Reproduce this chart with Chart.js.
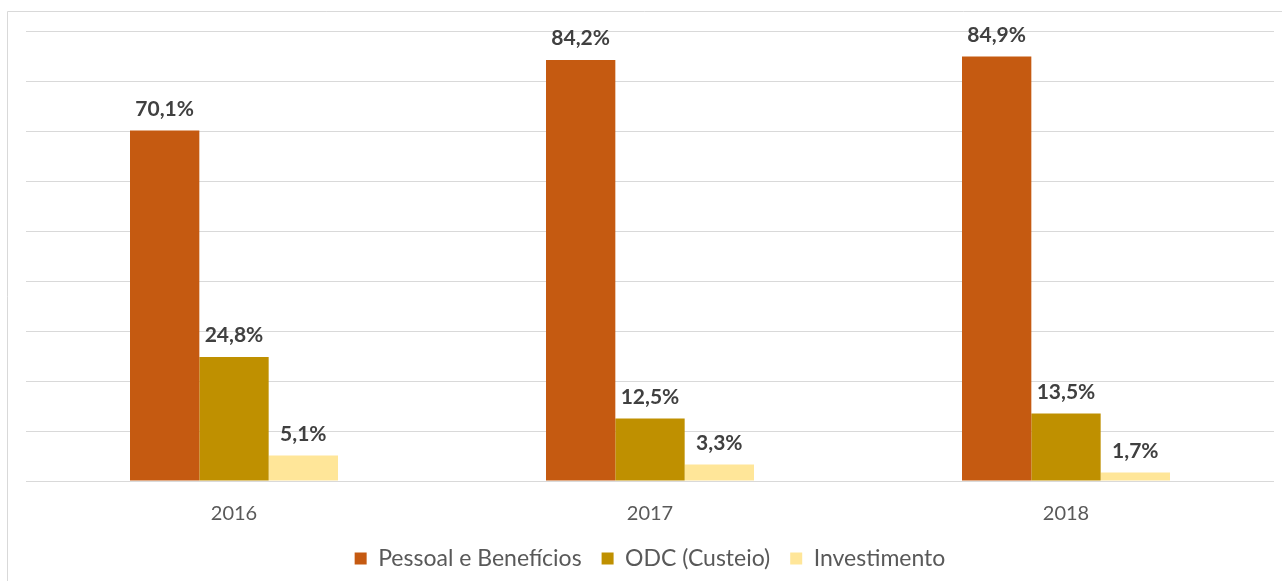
<!DOCTYPE html>
<html>
<head>
<meta charset="utf-8">
<script src="https://cdn.jsdelivr.net/npm/chart.js@4"></script>
<style>
html,body{margin:0;padding:0;background:#fff;}
#wrap{width:1282px;height:581px;position:relative;}
</style>
</head>
<body>
<div id="wrap"><canvas id="c" width="1282" height="581"></canvas></div>
<script>
const categories = ['2016', '2017', '2018'];
const pessoal = [70.1, 84.2, 84.9];
const odc = [24.8, 12.5, 13.5];
const investimento = [5.1, 3.3, 1.7];
const seriesNames = ['Pessoal e Benefícios', 'ODC (Custeio)', 'Investimento'];
const yTicks = [0, 10, 20, 30, 40, 50, 60, 70, 80, 90];

const frame = {
  id: 'frame',
  beforeDraw(chart) {
    const ctx = chart.ctx;
    ctx.save();
    ctx.fillStyle = '#fff';
    ctx.fillRect(0, 0, chart.width, chart.height);
    ctx.strokeStyle = '#d9d9d9';
    ctx.lineWidth = 1;
    ctx.beginPath();
    ctx.moveTo(7.5, chart.height);
    ctx.lineTo(7.5, 11.5);
    ctx.lineTo(chart.width, 11.5);
    ctx.stroke();
    ctx.restore();
  }
};

const valueLabels = {
  id: 'valueLabels',
  afterDatasetsDraw(chart) {
    const ctx = chart.ctx;
    ctx.save();
    ctx.font = 'bold 21px Lato';
    ctx.fillStyle = '#404040';
    ctx.textAlign = 'center';
    ctx.textBaseline = 'bottom';
    chart.data.datasets.forEach((ds, i) => {
      chart.getDatasetMeta(i).data.forEach((bar, j) => {
        const v = ds.data[j];
        ctx.fillText(v.toFixed(1).replace('.', ',') + '%', bar.x, bar.y - 11);
      });
    });
    ctx.restore();
  }
};

new Chart(document.getElementById('c'), {
  type: 'bar',
  data: {
    labels: categories,
    datasets: [
      { label: seriesNames[0], data: pessoal, backgroundColor: '#C55A11' },
      { label: seriesNames[1], data: odc, backgroundColor: '#BF9000' },
      { label: seriesNames[2], data: investimento, backgroundColor: '#FFE699' }
    ]
  },
  options: {
    responsive: false,
    animation: false,
    devicePixelRatio: 1,
    layout: { padding: { left: 26, right: 8, top: 31, bottom: 1 } },
    datasets: { bar: { categoryPercentage: 0.5, barPercentage: 1.0 } },
    scales: {
      x: {
        grid: { display: false },
        border: { display: false },
        ticks: { color: '#595959', font: { family: 'Lato', size: 20 }, padding: 13 },
        afterFit: s => { s.height = 46; }
      },
      y: {
        min: 0, max: 90,
        afterBuildTicks: s => { s.ticks = yTicks.map(v => ({ value: v })); },
        grid: { color: '#d9d9d9', drawTicks: false },
        border: { display: false },
        ticks: { display: false },
        afterFit: s => { s.width = 0; }
      }
    },
    plugins: {
      legend: {
        position: 'bottom',
        labels: {
          boxWidth: 12, boxHeight: 12, padding: 20,
          color: '#595959',
          font: { family: 'Lato', size: 23 }
        }
      },
      tooltip: { enabled: false }
    }
  },
  plugins: [frame, valueLabels]
});
</script>
</body>
</html>
